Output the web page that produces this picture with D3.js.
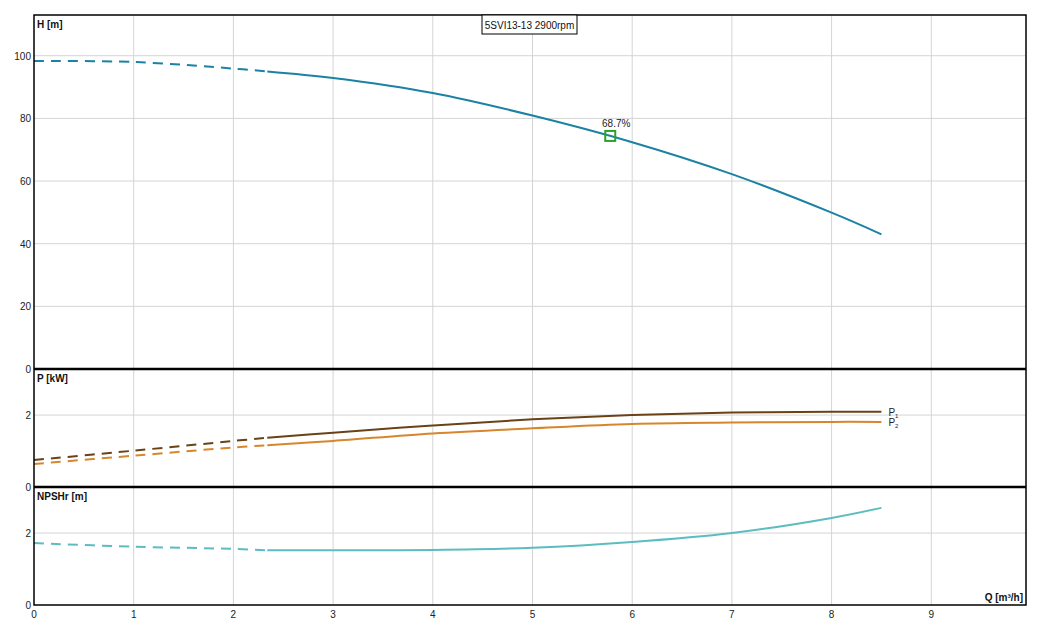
<!DOCTYPE html>
<html>
<head>
<script src="https://cdn.jsdelivr.net/npm/d3@7"></script>
<style type="text/css">
  body { margin: 0; background: #fff; font-family: 'Liberation Sans', Arial, sans-serif; }
  .grid line { stroke: #d4d4d4; stroke-width: 1; }
  .tick-label { font-size: 10px; fill: #222; }
  .unit { font-size: 10px; font-weight: bold; fill: #111; }
</style>
</head>
<body>
<script type="text/javascript">

var flow = [0, 1, 2, 2.34, 3, 4, 5, 6, 7, 8, 8.5];
var head = [98.3, 98.0, 95.9, 95.0, 92.9, 88.1, 80.9, 72.4, 62.2, 49.9, 43.0];
var power1 = [0.75, 1.01, 1.28, 1.37, 1.51, 1.71, 1.88, 2.0, 2.07, 2.09, 2.09];
var power2 = [0.64, 0.87, 1.10, 1.16, 1.28, 1.49, 1.63, 1.75, 1.79, 1.81, 1.81];
var npshr = [1.72, 1.62, 1.56, 1.52, 1.52, 1.53, 1.59, 1.75, 2.0, 2.42, 2.70];
var solidFrom = 2.34;   // curves are dashed below this flow

var xTicks = [0, 1, 2, 3, 4, 5, 6, 7, 8, 9];
var hTicks = [0, 20, 40, 60, 80, 100];
var pTicks = [0, 2];
var nTicks = [0, 2];

var effQ = 5.78, effH = 74.4, effLabel = "68.7%";
var title = "5SVI13-13 2900rpm";

var W = 1047, H = 625;
var left = 34, right = 1026;

var svg = d3.select("body").append("svg")
    .attr("width", W).attr("height", H);

var x = d3.scaleLinear().domain([0, 9.95]).range([left, right]);
var yH = d3.scaleLinear().domain([0, 113]).range([369, 15]);
var yP = d3.scaleLinear().domain([0, 3.28]).range([487, 369]);
var yN = d3.scaleLinear().domain([0, 3.28]).range([605, 487]);

var panels = [
  {y: yH, ticks: hTicks, label: "H [m]"},
  {y: yP, ticks: pTicks, label: "P [kW]"},
  {y: yN, ticks: nTicks, label: "NPSHr [m]"}
];

// gridlines
panels.forEach(function(p) {
  var r = p.y.range();
  var g = svg.append("g").attr("class", "grid");
  g.selectAll(".vx").data(xTicks.slice(1)).enter().append("line")
    .attr("x1", function(d) { return x(d); }).attr("x2", function(d) { return x(d); })
    .attr("y1", r[1]).attr("y2", r[0]);
  g.selectAll(".hy").data(p.ticks.slice(1)).enter().append("line")
    .attr("x1", left).attr("x2", right)
    .attr("y1", function(d) { return p.y(d); }).attr("y2", function(d) { return p.y(d); });

  svg.append("g").selectAll("text").data(p.ticks).enter().append("text")
    .attr("class", "tick-label")
    .attr("x", left - 3)
    .attr("y", function(d) { return p.y(d) + 4; })
    .attr("text-anchor", "end")
    .text(function(d) { return d; });

  svg.append("text").attr("class", "unit")
    .attr("x", left + 3).attr("y", r[1] + 13)
    .text(p.label);
});

// x tick labels
svg.append("g").selectAll("text").data(xTicks).enter().append("text")
  .attr("class", "tick-label")
  .attr("x", function(d) { return x(d); })
  .attr("y", 618)
  .attr("text-anchor", "middle")
  .text(function(d) { return d; });

svg.append("text").attr("class", "unit")
  .attr("x", right - 3).attr("y", 601)
  .attr("text-anchor", "end")
  .text("Q [m\u00b3/h]");

// curves
function drawCurve(vals, yScale, color) {
  var pts = flow.map(function(q, i) { return [q, vals[i]]; });
  var line = d3.line()
    .x(function(d) { return x(d[0]); })
    .y(function(d) { return yScale(d[1]); })
    .curve(d3.curveCatmullRom.alpha(0.5));
  svg.append("path")
    .attr("d", line(pts.filter(function(d) { return d[0] <= solidFrom; })))
    .attr("fill", "none").attr("stroke", color).attr("stroke-width", 2)
    .attr("stroke-dasharray", "10,7");
  svg.append("path")
    .attr("d", line(pts.filter(function(d) { return d[0] >= solidFrom; })))
    .attr("fill", "none").attr("stroke", color).attr("stroke-width", 2);
}

drawCurve(head, yH, "#1b82a3");
drawCurve(power1, yP, "#6a4216");
drawCurve(power2, yP, "#d8862e");
drawCurve(npshr, yN, "#5cbdc1");

// P1 / P2 labels
var lastQ = flow[flow.length - 1];
[[power1, "1"], [power2, "2"]].forEach(function(s) {
  var t = svg.append("text")
    .attr("x", x(lastQ) + 7)
    .attr("y", yP(s[0][s[0].length - 1]) + 4)
    .attr("font-size", "10px").attr("fill", "#222")
    .text("P");
  t.append("tspan").attr("font-size", "6px").attr("dy", 2).text(s[1]);
});

// efficiency marker
svg.append("rect")
  .attr("x", x(effQ) - 5).attr("y", yH(effH) - 5)
  .attr("width", 10).attr("height", 10)
  .attr("fill", "none").attr("stroke", "#2ca02c").attr("stroke-width", 2);
svg.append("text")
  .attr("x", x(effQ) + 6).attr("y", yH(effH) - 9)
  .attr("text-anchor", "middle")
  .attr("font-size", "10px").attr("fill", "#222")
  .text(effLabel);

// panel borders
svg.append("rect")
  .attr("x", left).attr("y", 15)
  .attr("width", right - left).attr("height", 605 - 15)
  .attr("fill", "none").attr("stroke", "#000").attr("stroke-width", 1.5);
[369, 487].forEach(function(yy) {
  svg.append("line")
    .attr("x1", left).attr("x2", right)
    .attr("y1", yy).attr("y2", yy)
    .attr("stroke", "#000").attr("stroke-width", 2.5);
});

// title box
var tb = svg.append("g");
tb.append("rect")
  .attr("x", 482).attr("y", 15).attr("width", 95).attr("height", 19)
  .attr("fill", "#fff").attr("stroke", "#000").attr("stroke-width", 1);
tb.append("text")
  .attr("x", 529.5).attr("y", 28.5)
  .attr("text-anchor", "middle")
  .attr("font-size", "10px").attr("fill", "#111")
  .text(title);

</script>
</body>
</html>
